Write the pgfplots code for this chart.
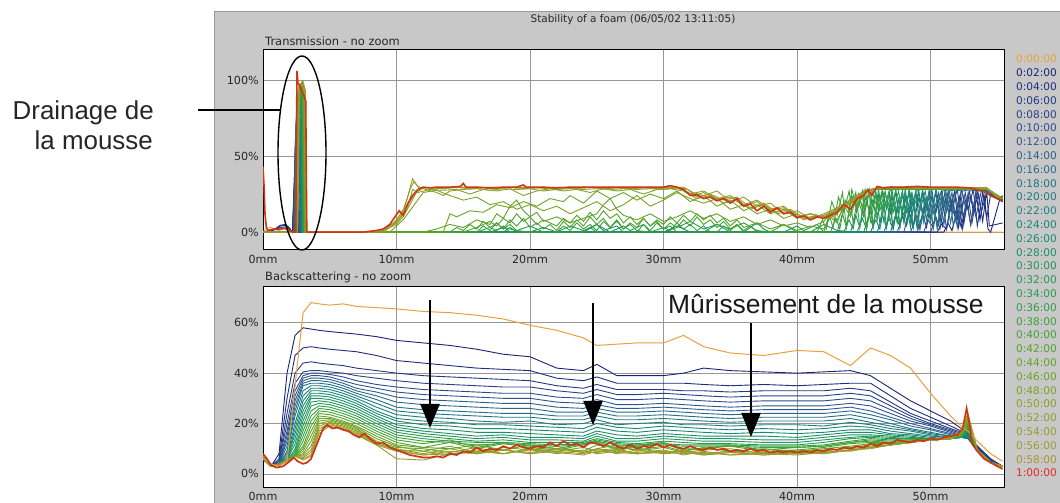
\documentclass[border=0pt]{standalone}
\usepackage{fontspec}
\usepackage{pgfplots}
\usepackage{pgfplotstable}
\pgfplotsset{compat=1.18}
\usetikzlibrary{arrows.meta}
\newfontfamily\dv{DejaVu Sans}
\newfontfamily\lib{Liberation Sans}
\definecolor{c0}{RGB}{232,160,64}
\definecolor{c1}{RGB}{25,35,120}
\definecolor{c2}{RGB}{30,45,125}
\definecolor{c3}{RGB}{35,55,130}
\definecolor{c4}{RGB}{40,65,135}
\definecolor{c5}{RGB}{45,75,138}
\definecolor{c6}{RGB}{45,85,140}
\definecolor{c7}{RGB}{45,95,140}
\definecolor{c8}{RGB}{40,105,138}
\definecolor{c9}{RGB}{35,112,135}
\definecolor{c10}{RGB}{30,120,130}
\definecolor{c11}{RGB}{28,127,125}
\definecolor{c12}{RGB}{25,133,120}
\definecolor{c13}{RGB}{25,138,112}
\definecolor{c14}{RGB}{28,142,105}
\definecolor{c15}{RGB}{30,146,98}
\definecolor{c16}{RGB}{35,150,90}
\definecolor{c17}{RGB}{40,154,80}
\definecolor{c18}{RGB}{48,158,70}
\definecolor{c19}{RGB}{58,160,60}
\definecolor{c20}{RGB}{70,162,50}
\definecolor{c21}{RGB}{82,163,42}
\definecolor{c22}{RGB}{95,164,38}
\definecolor{c23}{RGB}{108,164,36}
\definecolor{c24}{RGB}{120,163,36}
\definecolor{c25}{RGB}{132,162,38}
\definecolor{c26}{RGB}{142,160,40}
\definecolor{c27}{RGB}{150,157,44}
\definecolor{c28}{RGB}{158,154,48}
\definecolor{c29}{RGB}{165,150,52}
\definecolor{c30}{RGB}{205,55,20}
\definecolor{l30}{RGB}{230,40,40}
\definecolor{panel}{RGB}{200,200,200}
\definecolor{gridc}{RGB}{150,150,150}

\pgfplotstableread{
k 0 0.6 1.2 1.8 2.4 3 3.6 4.2 5 6 7 8.5 10 12 14 16 18 20 22 24 25 26.5 28 30 31.5 33 35 37.5 40 42 44 45.5 47 48.5 50 51.5 52.3 52.8 53.5 54.5 55.4
c0 6 4 3 5 35 64 68 67.5 67 67.5 66.5 66 65.5 64.5 64 63 61.5 59 57 54 51 51.5 52 52 55 50.5 48 47 49 48.5 43 50 47 42 32 23 19 17 13 8 5
c1 6 3 8 40 55 58 57.5 57 56.5 56 55.5 54.5 53 52 51 49.5 47.5 46.5 42 41 43.5 39 39 39 40 42 41 40.5 40 40.5 41 39 34 29 25 21 18 16.5 11 6 3
c2 6 3 6 30 47 50 50.5 50 49.5 49 48.5 47 45 44 43 42 41.5 41 38 37 38.5 36 36 36 36 35.5 35 35.5 35 35.5 36 36 31 26 22.5 19 17 16 11 5.5 3
c3 6 3 5 24 40 44 44.5 44 43.5 43 42 41 40 39 38.5 38 37.5 37 35 34 35.5 33.5 33.5 33.5 33 33 32.5 33 33 33 34 33 28.5 24 21 18 16.5 15.5 11 5.5 3
c4 6 3 5 20 36 40.5 41 41 40.5 40 39 38 37 36 35.5 35 34.5 34.5 33 32 33.5 31.5 31.5 32 31.5 31 30.5 31 31 31 32 31 27 23 20 17.5 16 15 10.5 5.5 3
c5 6 3 4 17 33 39 40 40 39.5 38.5 37 35.5 34.5 33.5 33 32.5 32 32 30.5 30 31.5 29.5 29.5 30 29.5 29 28.5 29 29 29 30 29 25.5 22 19.5 17 15.5 14.5 10 5 3
c6 6 3 4 15 31 38 39 39 38.5 37 35.5 34 32.5 31.5 31 30.5 30 30 28.5 28 29.5 27.5 27.5 28 27.5 27 26.5 27 27 27 28 27 24 21 19 16.5 15 14.5 10 5 3
c7 6 3 4 13 29 37 38 38 37.5 36 34 32.5 30.5 29.5 29 28.5 28 28 26.5 26 27.5 26 26 26.5 26 25.5 25 25.5 25.5 25.5 26.5 25 22.5 20 18 16 15 14 10 5 3
c8 6 3 4 11 27 36 37 37 36.5 35 33 31 28.5 27.5 27 26.5 26 26 24.5 24.5 26 24.5 24.5 25 24.5 24 23.5 24 24 24 25 23.5 21.5 19 17.5 15.5 14.5 14 9.5 5 3
c9 6 3 4 9 25 35 36 36 35.5 34 32 29.5 26.5 25.5 25 24.5 24 24 23 23 24.5 23 23 23.5 23 22.5 22 22.5 22.5 22.5 23.5 22 20 18 16.5 15 14.5 14 9.5 4.5 3
c10 6 3 4 8 23 33 35 35 34.5 33 31 28 25 24 23.5 23 22.5 22.5 21.5 21.5 23 21.5 21.5 22 21.5 21 20.5 21 21 21 22 20.5 19 17.5 16 15 14.5 14.5 9.5 4.5 3
c11 6 3 4 7 20 31 34 34 33.5 32 30 26.5 23.5 22.5 22 21 20.5 21 19.5 20 21.5 19.5 20 20.5 19.5 19.5 19 19.5 19.5 19 20.5 19.5 18 17 15.5 14.5 14.5 15 9.5 4.5 3
c12 6 3 4 6 18 29 33 33 32.5 31 29 25 22 21 20.5 19.5 19.5 19 18.5 18 20 18.5 18 19 18.5 18 17.5 18 17.5 18 19 18.5 17 16 15 14.5 14.5 15.5 9.5 4.5 3
c13 6 3 4 6 16 27 32 32 31.5 30 28 24 21 19.5 19 18 18 17.5 17 16.5 18.5 17 16.5 17.5 17 16.5 16 16.5 16 16.5 17.5 17.5 16 15.5 14.5 14 14.5 16 9.5 4.5 3
c14 6 3 4 5.5 14 25 31 31 30.5 29 27 23 19.5 18 17.5 16.5 16.5 16 15.5 15 17 15.5 15 16 15.5 15 15 15 14.5 15.5 16.5 16.5 15.5 15 14 14 14.5 16.5 9.5 4.5 3
c15 6 3 4 5.5 12 23 30 30 29.5 28 26 22 18.5 17 16 15 15.5 14.5 14.5 14 16 14 14 15 14.5 14 14 13.5 13.5 14.5 15.5 15.5 15 14.5 14 14 14.5 17 9.5 4.5 3
c16 6 3 4 5 10 21 28.5 29 28.5 27 25 21 17.5 16 15 14 14.5 13.5 13.5 13 15 13 13 14 13.5 13 13 12.5 12.5 13.5 14.5 15 14.5 14 14 14 14.5 17.5 9.5 4.5 3
c17 6 3 4 5 9 19 27 28 27.5 26 24 20 16.5 15 14 13 13.5 12.5 12.5 12.5 14 12.5 12 13 12.5 12 12 11.5 11.5 12.5 14 14.5 14 14 14 14 14.5 18 9.5 4.5 3
c18 6 3 4 5 8 17 25 27 26.5 25 23 19 15.5 14 13 12.5 12.5 12 11.5 12 13.5 12 11.5 12 11.5 11.5 11.5 11 11 11.5 13 14 13.5 13.5 13.5 14 15 18.5 9.5 4.5 3
c19 6 3 4 5 7.5 15 23 26 25.5 24 22 18 14.5 13 12.5 11.5 12 11.5 11 11.5 13 11.5 11 11.5 11 11 11 10.5 10.5 11 12.5 13.5 13 13.5 13.5 14 15 19 9.5 4.5 3
c20 6.5 3 4 5 7 13 21 25 24.5 23 21 17 13.5 12 13.5 10.5 12.5 11 10 12 13 10 11.5 12.5 10 10 11.5 9.5 10.5 11 12.5 13 12.5 13 13.5 14 15.5 19.5 9.5 4.5 3
c21 6.5 3 4 5.5 7 11 19 24 23.5 22 20 16 12.5 10.5 12.5 10 12 10.5 9.5 11.5 12.5 9.5 11 12 9.5 10 11 9 9.5 10.5 12 12.5 12.5 13 13.5 14 15.5 20 9.5 4.5 3
c22 7 3 3.5 5.5 7 10 17 23 22.5 21 19 15 11.5 10.5 10 11.5 9.5 11.5 10 9 11.5 10.5 9.5 11 9 10.5 9 10 9 10 11 12 12 13 13.5 14 15.5 20.5 9.5 4.5 3
c23 7 3 3.5 5.5 7 9 15 22 22 20.5 18.5 14 11 9 11 8.5 10.5 9.5 11 8.5 10 11.5 9 10.5 8.5 9.5 10 8 9.5 9 10.5 11.5 12 12.5 13.5 14 16 21 9.5 4.5 3
c24 7 3 3.5 5.5 7 8 13 21 21.5 20 18 13 10.5 10 8.5 10.5 8 10 9 10.5 9 9.5 10.5 8 9.5 8 9 8.5 8 9.5 10 11 11.5 12.5 13.5 14 16 21.5 9.5 4.5 3
c25 7 3 3.5 5.5 7 7.5 11 20 21 19.5 17.5 12.5 10 8 10 8 9.5 8.5 10 8.5 9.5 10 8 9 9 8 9 7.5 8.5 8.5 9.5 10.5 11.5 12.5 13.5 14 16 22 9.5 4.5 3
c26 7 3 3.5 5.5 7 7 9.5 19 20.5 19 17 12 9.5 9 7.5 9.5 8 10 8 9.5 8 9 8.5 9.5 7.5 9 7.5 8.5 8 9 9 10.5 11.5 12.5 13.5 14 16.5 22.5 9.5 4.5 3
c27 7 3 3.5 5.5 7 6.5 8.5 18 20 18.5 16.5 12 9.5 7.5 9 8 9.5 8 9 8 10 8 9.5 8 8.5 7.5 8.5 8 7.5 8.5 9.5 10 11.5 12.5 13.5 14 16.5 23 9.5 4.5 3
c28 7 3 3.5 5.5 7 6 7.5 17 19.5 18 16 11.5 9 7.5 8 9 8 9.5 8.5 7.5 9 8.5 8 9 8 8.5 7.5 8 8.5 8 9.5 10.5 11.5 12.5 13.5 14.5 17 23.5 9.5 4.5 3
c29 7 3 3.5 5.5 7 5.5 7 16 19 17.5 15.5 11.5 6 5.5 8 8.5 9.5 8 10 8.5 8.5 9.5 8 8.5 9 7.5 8.5 7.5 8.5 8 9.5 10.5 11.5 12.5 13.5 14.5 17 24 9.5 4.5 3
}\bsraw
\pgfplotstabletranspose[colnames from=k]\bs\bsraw

\pgfplotsset{
  panelaxis/.style={
    scale only axis, width=741bp, height=200bp, anchor=south west,
    xmin=0, xmax=55.5,
    axis background/.style={fill=white},
    axis line style={black, line width=1bp},
    grid=major, major grid style={gridc, line width=0.8bp},
    major tick length=0pt,
    xtick={0,10,20,30,40,50},
    xticklabels={0mm,10mm,20mm,30mm,40mm,50mm},
    tick label style={font=\dv\fontsize{11.2}{12}\selectfont, text=black!85},
    xticklabel style={anchor=center, yshift=-9bp},
    yticklabel style={anchor=east, inner sep=0pt, xshift=-4bp},
  }
}

\begin{document}
\begin{tikzpicture}
\useasboundingbox (0,0) rectangle (1060bp,503bp);
\fill[white] (0,0) rectangle (1060bp,503bp);
\fill[panel] (214bp,0) rectangle (1060bp,492bp);
\draw[gray!80, line width=0.8bp] (214bp,0) -- (214bp,492bp) -- (1060bp,492bp);

% ---------- Transmission ----------
\begin{axis}[panelaxis, at={(263bp,253bp)},
  ymin=-11.8, ymax=119.7, ytick={0,50,100}, yticklabels={0\%,50\%,100\%}]
\addplot[c0, line width=0.9bp] coordinates {(0,0)(0.2,2)(0.5,3)(1,2)(1.5,2.5)(2,1.5)(2.3,0)(55.4,0)};
\addplot[c1, line width=0.9bp] coordinates {(0,0)(0.4,1)(0.9,2)(1.3,4.5)(1.7,5)(2,2.5)(2.2,0)(2.3,15)(2.4,35)(2.5,10)(2.6,0)(51,0)(51.3,6)(51.6,1)(52,14)(52.3,3)(52.7,21)(53,5)(53.4,26)(53.7,8)(54,25)(54.3,2)(54.5,0)(55.2,22)(55.4,24)};
\addplot[c2, line width=0.9bp] coordinates {(0,0)(0.4,0.5)(0.9,1.5)(1.3,4)(1.7,4.5)(2,2)(2.2,0)(2.32,25)(2.42,45)(2.52,20)(2.62,0)(50.5,0)(50.8,5)(51.2,2)(51.5,18)(51.8,11)(52.2,24)(52.5,6)(52.9,27)(53.2,14)(53.6,25)(53.9,7)(54.2,27)(54.4,4)(55.4,6)};
\addplot[c3, line width=0.9bp] coordinates {(0,0)(0.5,0.5)(1.3,3)(1.8,3.5)(2.2,0)(2.35,35)(2.45,50)(2.55,30)(2.65,0)(50,0)(50.4,10)(50.7,2)(51.1,22)(51.4,12)(51.8,27)(52.1,3)(52.5,24)(52.8,15)(53.2,28)(53.5,4)(53.9,26)(54.2,9)(54.5,25)(55,22)(55.4,20)};
\addplot[c4, line width=0.9bp] coordinates {(0,0)(2.25,0)(2.38,45)(2.48,60)(2.58,35)(2.68,0)(49.5,0)(49.8,8)(50.2,3)(50.5,20)(50.9,4)(51.3,26)(51.6,16)(52,28)(52.4,2)(52.8,25)(53.1,6)(53.5,27)(53.8,13)(54.2,26)(54.5,24)(55.4,20)};
\addplot[c5, line width=0.9bp] coordinates {(0,0)(2.27,0)(2.4,55)(2.5,68)(2.6,40)(2.7,0)(49,0)(49.4,12)(49.7,3)(50.1,24)(50.4,13)(50.8,27)(51.2,2)(51.6,22)(51.9,7)(52.3,28)(52.6,17)(53,24)(53.4,10)(53.8,27)(54.2,26)(55,22)(55.4,21)};
\addplot[c6, line width=0.9bp] coordinates {(0,0)(2.3,0)(2.42,60)(2.52,75)(2.65,45)(2.75,0)(48.5,0)(48.9,9)(49.2,2)(49.6,18)(50,10)(50.4,26)(50.7,6)(51.1,28)(51.5,14)(51.9,23)(52.2,8)(52.6,26)(53,5)(53.4,27)(54.2,27)(55,23)(55.4,21)};
\addplot[c7, line width=0.9bp] coordinates {(0,0)(2.32,0)(2.45,65)(2.55,80)(2.7,50)(2.8,0)(48,0)(48.4,14)(48.7,3)(49.1,22)(49.5,12)(49.9,27)(50.2,2)(50.6,25)(51,16)(51.4,28)(51.7,4)(52.1,20)(52.5,11)(52.9,27)(53.5,27.5)(54.2,27)(55.4,21)};
\addplot[c8, line width=0.9bp] coordinates {(0,0)(2.35,0)(2.47,70)(2.57,84)(2.72,55)(2.82,0)(47.5,0)(47.9,10)(48.2,4)(48.6,20)(49,9)(49.4,25)(49.7,8)(50.1,28)(50.5,2)(50.9,24)(51.2,13)(51.6,26)(52,3)(52.4,27)(53,28)(54.2,27.5)(55.4,21)};
\addplot[c9, line width=0.9bp] coordinates {(0,0)(2.37,0)(2.5,74)(2.6,86)(2.75,60)(2.85,0)(47,0)(47.4,12)(47.7,3)(48.1,24)(48.5,14)(48.9,27)(49.2,2)(49.6,22)(50,8)(50.4,28)(50.7,17)(51.1,25)(51.5,6)(51.9,27)(52.5,28)(54.2,27.5)(55.4,21)};
\addplot[c10, line width=0.9bp] coordinates {(0,0)(2.4,0)(2.5,78)(2.62,88)(2.78,65)(2.88,0)(46.5,0)(46.9,9)(47.2,2)(47.6,21)(48,11)(48.4,26)(48.7,3)(49.1,28)(49.5,7)(49.9,24)(50.2,12)(50.6,26)(51,5)(51.4,27)(52,28)(54.2,28)(55.4,21)};
\addplot[c11, line width=0.9bp] coordinates {(0,0)(2.4,0)(2.52,80)(2.64,90)(2.8,70)(2.9,0)(20,0)(21,3)(22,0)(46,0)(46.4,11)(46.7,3)(47.1,23)(47.5,13)(47.9,27)(48.2,6)(48.6,25)(49,2)(49.4,28)(49.7,15)(50.1,22)(50.5,3)(50.9,27)(51.5,28)(54.2,28)(55.4,21)};
\addplot[c12, line width=0.9bp] coordinates {(0,0)(2.42,0)(2.53,82)(2.66,91)(2.82,72)(2.92,0)(24,0)(25,5)(25.5,1)(26.5,4)(27,0)(45.5,0)(45.9,8)(46.2,2)(46.6,20)(47,12)(47.4,26)(47.7,3)(48.1,28)(48.5,7)(48.9,25)(49.2,14)(49.6,27)(50,6)(50.4,28)(51,28.5)(54.2,28)(55.4,21)};
\addplot[c13, line width=0.9bp] coordinates {(0,0)(2.43,0)(2.54,84)(2.68,92)(2.85,75)(2.95,0)(30,0)(31,4)(32,0)(36,0)(37,6)(37.5,2)(38,0)(45,0)(45.4,12)(45.7,3)(46.1,24)(46.5,15)(46.9,27)(47.2,2)(47.6,22)(48,8)(48.4,28)(48.7,16)(49.1,25)(49.5,6)(49.9,28)(50.5,28.5)(54.2,28)(55.4,21)};
\addplot[c14, line width=0.9bp] coordinates {(0,0)(2.44,0)(2.55,85)(2.7,93)(2.88,77)(2.98,0)(18,0)(18.5,3)(19,0)(41,0)(42,5)(43,1)(44.5,0)(44.9,9)(45.2,2)(45.6,21)(46,11)(46.4,26)(46.7,3)(47.1,28)(47.5,7)(47.9,24)(48.2,13)(48.6,26)(49,5)(49.4,28)(50,28.5)(54.2,28)(55.4,22)};
\addplot[c15, line width=0.9bp] coordinates {(0,0)(2.45,0)(2.56,86)(2.72,94)(2.9,80)(3.0,0)(26,0)(27,4)(27.5,1)(28.5,5)(29,0)(39,0)(40,4)(40.5,1)(41.5,5)(42,0)(44,0)(44.4,11)(44.7,3)(45.1,23)(45.5,12)(45.9,27)(46.2,6)(46.6,25)(47,14)(47.4,28)(47.7,5)(48.1,22)(48.5,3)(48.9,27)(49.5,28.5)(54.2,28)(55.4,22)};
\addplot[c16, line width=0.9bp] coordinates {(0,0)(2.46,0)(2.57,87)(2.74,94)(2.92,82)(3.02,0)(17,0)(18,3)(19,1)(20,4)(21,0)(33,0)(34,5)(35,2)(36,6)(37,1)(38,0)(43.5,0)(43.9,8)(44.2,2)(44.6,20)(45,10)(45.4,26)(45.7,3)(46.1,28)(46.5,7)(46.9,25)(47.2,13)(47.6,27)(48,6)(48.4,28)(49,28.5)(54.2,28)(55.4,22)};
\addplot[c17, line width=0.9bp] coordinates {(0,0)(2.47,0)(2.58,88)(2.76,95)(2.94,84)(3.04,0)(22,0)(23,4)(24,1)(25,5)(26,0)(30,0)(31,3)(32,7)(33,2)(34,5)(35,0)(43,0)(43.4,12)(43.7,3)(44.1,24)(44.5,14)(44.9,27)(45.2,2)(45.6,22)(46,8)(46.4,28)(46.7,15)(47.1,25)(47.5,6)(47.9,28)(48.5,28.5)(54.2,28)(55.4,22)};
\addplot[c18, line width=0.9bp] coordinates {(0,0)(2.48,0)(2.6,89)(2.78,95)(2.96,85)(3.06,0)(16,0)(17,3)(17.5,1)(18,4)(18.5,0)(24,0)(24.5,3)(25,0)(28,0)(28.5,5)(29,1)(29.5,6)(30,2)(30.5,4)(31,0)(34,0)(34.5,4)(35,1)(35.5,5)(36,0)(42.5,0)(42.9,9)(43.2,2)(43.6,21)(44,12)(44.4,26)(44.7,3)(45.1,28)(45.5,7)(45.9,24)(46.2,14)(46.6,27)(47,6)(47.4,28)(48,28.5)(54.2,28)(55.4,22)};
\addplot[c19, line width=0.9bp] coordinates {(0,0)(2.49,0)(2.61,90)(2.8,96)(2.98,86)(3.08,0)(16,0)(16.5,4)(17,1)(17.5,6)(18,2)(18.5,5)(19,1)(20,0)(22,0)(22.5,4)(23,1)(23.5,6)(24,2)(24.5,5)(25,1)(25.5,7)(26,3)(26.5,8)(27,2)(27.5,5)(28,1)(29,0)(30,3)(30.5,1)(31,6)(31.5,2)(32,5)(32.5,1)(33,4)(33.5,0)(38,0)(39,5)(40,0)(42,0)(42.4,11)(42.7,3)(43.1,23)(43.5,13)(43.9,27)(44.2,6)(44.6,25)(45,12)(45.4,28)(45.7,5)(46.1,22)(46.5,14)(46.9,27)(47.5,28.5)(54.2,28)(55.4,22)};
\addplot[c20, line width=0.9bp] coordinates {(0,0)(2.5,0)(2.62,91)(2.82,96)(3.0,87)(3.1,0)(14,0)(14.5,3)(15,1)(15.5,5)(16,2)(16.5,7)(17,3)(17.5,6)(18,2)(18.5,8)(19,4)(19.5,9)(20,3)(20.5,6)(21,2)(21.5,5)(22,1)(22.5,7)(23,3)(23.5,8)(24,4)(24.5,10)(25,5)(25.5,9)(26,3)(26.5,7)(27,2)(27.5,6)(28,3)(28.5,9)(29,4)(29.5,7)(30,2)(30.5,6)(31,3)(31.5,8)(32,4)(32.5,10)(33,5)(33.5,8)(34,3)(34.5,7)(35,2)(35.5,5)(36,1)(36.5,4)(37,0)(41.5,0)(41.9,8)(42.2,2)(42.6,20)(43,11)(43.4,26)(43.7,3)(44.1,28)(44.5,15)(44.9,24)(45.2,2)(45.6,27)(46,16)(46.4,28)(47,28.5)(54.2,28)(55.4,22)};
\addplot[c21, line width=0.9bp] coordinates {(0,0)(2.51,0)(2.63,92)(2.84,97)(3.02,88)(3.12,0)(15,0)(16,3)(17,7)(17.5,4)(18,9)(18.5,6)(19,12)(19.5,7)(20,10)(20.5,5)(21,8)(22,4)(22.5,9)(23,6)(23.5,11)(24,7)(24.5,13)(25,8)(25.5,14)(26,9)(26.5,12)(27,6)(27.5,10)(28,5)(28.5,9)(29,4)(29.5,8)(30,5)(30.5,10)(31,6)(31.5,11)(32,7)(32.5,12)(33,8)(33.5,11)(34,6)(34.5,9)(35,4)(35.5,8)(36,3)(37,6)(38,2)(39,5)(40,1)(41,4)(42,2)(42.5,10)(43,6)(43.5,18)(44,10)(44.5,24)(45,16)(45.5,28)(46,28.5)(54.2,28)(55.4,22)};
\addplot[c22, line width=0.9bp] coordinates {(0,0)(2.52,0)(2.64,93)(2.86,97)(3.04,89)(3.14,0)(12,0)(13,2)(14,5)(15,3)(16,8)(17,5)(17.5,12)(18,9)(18.5,17)(19,21)(19.5,14)(20,10)(20.5,13)(21,7)(22,10)(23,6)(24,9)(25,12)(25.5,18)(26,22)(26.5,15)(27,11)(28,8)(29,12)(30,7)(31,10)(32,14)(33,9)(34,12)(35,7)(36,10)(37,5)(38,8)(39,4)(40,6)(41,3)(42,7)(42.5,12)(43,8)(43.5,16)(44,22)(44.5,17)(45,26)(45.5,28)(54.2,28.5)(55.4,22)};
\addplot[c23, line width=0.9bp] coordinates {(0,0)(2.53,0)(2.65,94)(2.88,98)(3.06,89)(3.16,0)(13.5,0)(14,12)(14.5,10)(15.5,14)(16.5,13)(17.5,18)(18.5,16)(19.5,20)(20.5,17)(21.5,22)(22.5,20)(23,24)(24,19)(25,27)(26,22)(27,26)(28,21)(29,25)(30,22)(31,27)(32,20)(33,24)(34,17)(35,21)(36,14)(37,18)(38,12)(39,15)(40,9)(41,12)(42,10)(43,15)(44,20)(45,27)(46,29)(54.2,28.5)(55.4,22)};
\addplot[c24, line width=0.9bp] coordinates {(0,0)(2.54,0)(2.66,94)(2.9,98)(3.08,90)(3.18,0)(9.5,0)(10.5,8)(11,14)(11.5,20)(12,26)(13,27.5)(14,24)(15,21)(16,23)(17,18)(18,20)(19,15)(20,18)(21,14)(22,17)(23,12)(24,16)(25,20)(26,14)(27,18)(28,24)(29,17)(30,21)(31,26)(32,22)(33,19)(34,22)(35,15)(36,18)(37,12)(38,15)(39,9)(40,12)(41,8)(42,11)(43,15)(44,19)(45,26)(46,29)(54.2,28.5)(55.4,22)};
\addplot[c25, line width=0.9bp] coordinates {(0,0)(2.55,0)(2.67,95)(2.92,98)(3.1,90)(3.2,0)(9,0)(10,6)(10.8,15)(11.2,28)(11.6,26)(12.5,28)(13.5,27.5)(14.5,28)(15.5,25)(16.5,28)(17.5,27)(18.5,28.5)(19.5,24)(20.5,27)(21.5,28.5)(22.5,27)(23.5,28)(24.5,26)(25.5,28.5)(26.5,27)(27.5,28)(28.5,25)(29.5,28)(30.5,28.5)(31.5,27)(32.5,22)(33.5,24)(34.5,19)(35.5,21)(36.5,15)(37.5,18)(38.5,12)(39.5,14)(40.5,8)(41.5,11)(42.5,9)(43.5,16)(44.5,21)(45.5,28)(46.5,29)(54.2,29)(55.4,22)};
\addplot[c26, line width=0.9bp] coordinates {(0,0)(2.56,0)(2.68,95)(2.94,99)(3.12,91)(3.22,0)(8.5,0)(9.5,4)(10.3,10)(10.8,22)(11.2,35)(11.6,30)(12.2,28)(13,26)(13.5,24)(14,27)(15,28)(16,28.5)(17,27.5)(18,28.5)(19,28)(20,28.5)(21,27)(22,28)(23,28.5)(24,28)(25,28.5)(26,28)(27,28.5)(28,28)(29,28.5)(30,28)(31,29)(31.5,28)(32,25)(33,27)(34,22)(35,24)(36,18)(37,21)(38,15)(39,17)(40,10)(41,12)(42,9)(43,14)(44,19)(44.5,24)(45,22)(46,29)(47,29.5)(54.2,29)(55,23)(55.4,22)};
\addplot[c27, line width=0.9bp] coordinates {(0,0)(2.57,0)(2.7,96)(2.96,99)(3.14,92)(3.24,0)(8,0)(9,2)(9.8,6)(10.3,12)(10.6,16)(11,28)(11.3,33)(11.7,29)(12.5,29)(13.5,28.5)(14.5,29.5)(15.5,28.5)(16.5,29)(17.5,28.5)(18.5,29.5)(19.5,28.5)(20.5,29)(21.5,28.5)(22.5,29)(23.5,28.5)(24.5,29.5)(25.5,28.5)(26.5,29)(27.5,28.5)(28.5,29)(29.5,28.5)(30.5,29)(31.5,29.5)(32.2,26)(33,24)(34,27)(35,20)(36,23)(37,17)(38,19)(39,12)(40,14)(41,9)(42,12)(43,16)(44,21)(45,27)(46,29)(47,29.5)(54.2,29)(55,23)(55.4,22)};
\addplot[c28, line width=0.9bp] coordinates {(0,0)(2.58,0)(2.72,96)(2.98,99)(3.16,92)(3.26,0)(8,0)(9,1)(10,5)(10.5,10)(11,18)(11.5,26)(12,29)(13,29.5)(14,29)(15,29.5)(16,29)(17,29.5)(18,29)(19,29.5)(20,29)(21,29.5)(22,29)(23,29.5)(24,29)(25,29.5)(26,29)(27,29.5)(28,29)(29,29.5)(30,29)(31,29.5)(31.8,28)(32.5,23)(33.5,25)(34.5,21)(35.5,23)(36.5,16)(37.5,19)(38.5,13)(39.5,15)(40.5,9)(41.5,11)(42.5,10)(43.5,17)(44.5,23)(45.5,27)(46.5,29.5)(54.2,29)(55,23)(55.4,22)};
\addplot[c29, line width=0.9bp] coordinates {(0,0)(2.6,0)(2.74,97)(3.0,99)(3.18,93)(3.28,0)(7.8,0)(8.5,0.5)(9.5,3)(10,7)(10.5,13)(11,20)(11.5,27)(12,29.5)(13,29)(14,29.5)(15,29)(16,29.5)(17,29)(18,29.5)(19,29)(20,29.5)(21,29)(22,29.5)(23,29)(24,29.5)(25,29)(26,29.5)(27,29)(28,29.5)(29,29)(30,29.5)(31,29)(31.6,27)(32.3,24)(33,26)(34,21)(35,23)(36,17)(37,20)(38,14)(39,16)(40,10)(41,12)(42,10)(43,14)(44,20)(45,26)(46,29)(47,29.5)(54.2,29)(55,23)(55.4,22)};
\addplot[c30, line width=1.6bp] coordinates {(0,43)(0.08,30)(0.15,12)(0.25,3)(0.4,1)(0.8,2)(1.2,1.5)(1.6,2.5)(2.0,1)(2.3,0)(2.45,0)(2.5,60)(2.55,106)(2.62,98)(2.75,96)(2.9,93)(3.05,90)(3.2,86)(3.28,0)(7.6,0)(8,0.5)(8.5,1)(9,2)(9.5,5)(9.8,9)(10.2,14)(10.5,11)(10.8,18)(11.2,24)(11.6,28)(12,29.5)(12.5,29)(13,29.5)(14,29.5)(14.8,30)(15,32)(15.2,29.5)(16,29.5)(17,29)(18,29.5)(19,29.5)(19.5,31)(19.7,29.5)(21,29.5)(22,29)(23,29.5)(24,29.5)(25,29.5)(26,29.5)(27,29.5)(28,29.5)(29,29.5)(30,29.5)(30.5,30.5)(31,29.5)(31.5,28)(32,24)(32.5,24.5)(33,22)(33.5,23)(34,20.5)(34.5,22)(35,19)(35.5,22)(36,17)(36.5,18.5)(37,14)(37.5,17)(38,13)(38.5,16)(39,12)(39.5,13)(40,9.5)(40.5,10.5)(41,8)(41.5,10)(42,9)(42.5,11)(43,13)(43.5,18)(44,15)(44.5,22)(45,24)(45.3,28)(45.6,24)(46,30)(46.5,29)(47,29.5)(48,29.5)(49,30)(50,29.5)(51,29.5)(52,29.5)(53,29)(54,26.5)(54.5,24)(55,22)(55.4,21)};
\end{axis}

% ---------- Backscattering ----------
\begin{axis}[panelaxis, at={(263bp,16bp)},
  ymin=-5.2, ymax=74.2, ytick={0,20,40,60}, yticklabels={0\%,20\%,40\%,60\%}]
\pgfplotsinvokeforeach{1,...,29}{
  \addplot[c#1, line width=0.9bp] table[x=colnames, y=c#1] {\bs};
}
\addplot[c0, line width=1bp] table[x=colnames, y=c0] {\bs};
\addplot[c30, line width=1.7bp] coordinates {(0,8)(0.3,6)(0.6,3.5)(1,2.5)(1.5,3)(2,5)(2.3,6.5)(2.6,5)(3,4)(3.3,4.5)(3.6,6)(3.9,10)(4.2,14)(4.5,18)(4.8,19.5)(5.2,18)(5.6,18.5)(6,17.5)(6.4,17)(6.8,15.5)(7.2,14.5)(7.6,16)(8,14)(8.5,12)(9,12.5)(9.5,10.5)(10,9.5)(10.5,8.5)(11,7.5)(11.5,7)(12,6.5)(12.5,6.5)(13,7)(13.5,6.5)(14,8)(14.5,7.5)(15,9)(15.5,8.5)(16,10.5)(16.5,9)(17,10)(17.5,9.5)(18,11)(18.5,10)(19,11.5)(19.5,10.5)(20,10)(20.5,11)(21,10.5)(21.5,12.5)(22,11)(22.5,13)(23,11.5)(23.5,12)(24,10.5)(24.5,12.5)(25,12)(25.5,11)(26,12.5)(26.5,11)(27,10)(27.5,11.5)(28,10)(28.5,11)(29,10.5)(29.5,12)(30,10.5)(30.5,11.5)(31,10.5)(31.5,10)(32,11)(32.5,10)(33,9.5)(33.5,10.5)(34,9.5)(34.5,10)(35,9)(35.5,9.5)(36,9)(36.5,10)(37,9)(37.5,9.5)(38,8.5)(38.5,9)(39,8.5)(39.5,9)(40,8.5)(40.5,9)(41,8.5)(41.5,9.5)(42,9)(42.5,10)(43,9.5)(43.5,10.5)(44,10)(44.5,11)(45,10.5)(45.5,12)(46,11)(46.5,12.5)(47,12)(47.5,13.5)(48,13)(48.5,12.5)(49,13.5)(49.5,13)(50,14)(50.5,13.5)(51,14.5)(51.5,15)(52,15.5)(52.4,18)(52.7,26)(52.9,20)(53.1,12)(53.5,9)(54,6)(54.5,4.5)(55,3)(55.4,2)};
\end{axis}

% ---------- texts and annotations ----------
\node[font=\dv\fontsize{10.5}{12}\selectfont, text=black!85] at (633bp,483bp) {Stability of a foam (06/05/02 13:11:05)};
\node[anchor=west, inner sep=0pt, font=\dv\fontsize{11.5}{13}\selectfont, text=black!85] at (265bp,462bp) {Transmission - no zoom};
\node[anchor=west, inner sep=0pt, font=\dv\fontsize{11.5}{13}\selectfont, text=black!85] at (265bp,226bp) {Backscattering - no zoom};

\foreach \i/\t in {0/0:00:00,1/0:02:00,2/0:04:00,3/0:06:00,4/0:08:00,5/0:10:00,6/0:12:00,7/0:14:00,8/0:16:00,9/0:18:00,10/0:20:00,11/0:22:00,12/0:24:00,13/0:26:00,14/0:28:00,15/0:30:00,16/0:32:00,17/0:34:00,18/0:36:00,19/0:38:00,20/0:40:00,21/0:42:00,22/0:44:00,23/0:46:00,24/0:48:00,25/0:50:00,26/0:52:00,27/0:54:00,28/0:56:00,29/0:58:00}{
  \node[anchor=west, inner sep=0pt, text=c\i, font=\dv\fontsize{10.6}{11}\selectfont] at (1016bp,{444bp-13.8bp*\i}) {\t};
}
\node[anchor=west, inner sep=0pt, text=l30, font=\dv\fontsize{10.6}{11}\selectfont] at (1016bp,30bp) {1:00:00};

\draw[line width=1.4bp] (302bp,350bp) ellipse [x radius=24bp, y radius=97bp];
\draw[line width=1.5bp] (198bp,393bp) -- (280.5bp,393bp);
\node[anchor=base east, inner sep=0pt, font=\lib\fontsize{26}{30}\selectfont, text=black!85] at (154bp,383.5bp) {Drainage de};
\node[anchor=base east, inner sep=0pt, font=\lib\fontsize{26}{30}\selectfont, text=black!85] at (153bp,353.5bp) {la mousse};

\draw[line width=2.2bp, -{Triangle[width=19bp,length=24bp]}] (430bp,203bp) -- (430bp,75bp);
\draw[line width=2.2bp, -{Triangle[width=19bp,length=24bp]}] (593bp,200bp) -- (593bp,78bp);
\draw[line width=2.2bp, -{Triangle[width=19bp,length=24bp]}] (751bp,180bp) -- (751bp,66bp);
\node[anchor=base west, inner sep=0pt, font=\lib\fontsize{26.5}{30}\selectfont, text=black!90] at (668bp,189bp) {Mûrissement de la mousse};
\end{tikzpicture}
\end{document}
